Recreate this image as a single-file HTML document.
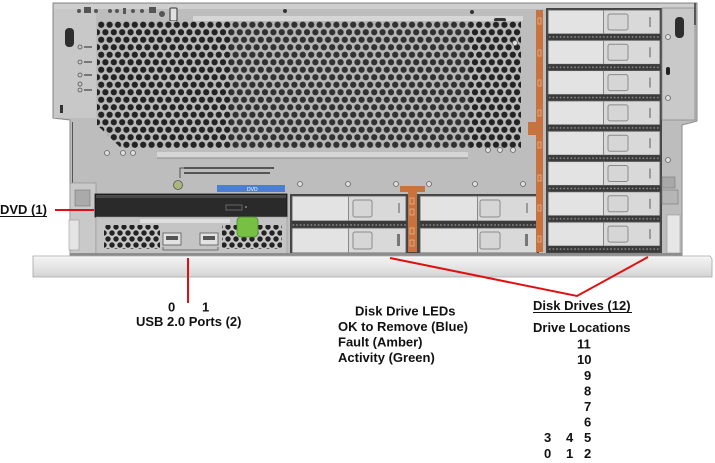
<!DOCTYPE html>
<html><head><meta charset="utf-8">
<style>
html,body{margin:0;padding:0;background:#fff;}
svg{display:block;}
.t{font-family:"Liberation Sans",Arial,sans-serif;font-weight:bold;font-size:13px;fill:#111;}
</style></head><body>
<svg width="715" height="463" viewBox="0 0 715 463" xmlns="http://www.w3.org/2000/svg">
<defs>
<pattern id="hex" width="8.4" height="15" patternUnits="userSpaceOnUse" x="97" y="21">
<rect width="8.4" height="15" fill="#b9b9b9"/>
<circle cx="4.2" cy="3.75" r="3.1" fill="#232323"/>
<circle cx="0" cy="11.25" r="3.1" fill="#232323"/>
<circle cx="8.4" cy="11.25" r="3.1" fill="#232323"/>
</pattern>
<pattern id="hex2" width="8" height="12" patternUnits="userSpaceOnUse" x="104" y="224">
<rect width="8" height="12" fill="#c6c6c6"/>
<circle cx="4" cy="3" r="2.7" fill="#222"/>
<circle cx="0" cy="9" r="2.7" fill="#222"/>
<circle cx="8" cy="9" r="2.7" fill="#222"/>
</pattern>
<pattern id="grate" width="3.6" height="6" patternUnits="userSpaceOnUse">
<rect width="3.6" height="6" fill="#3a3a3a"/>
<circle cx="1.8" cy="3" r="0.9" fill="#8e8e8e"/>
</pattern>
<linearGradient id="bez" x1="0" y1="0" x2="0" y2="1">
<stop offset="0" stop-color="#f3f3f3"/><stop offset="0.5" stop-color="#e6e6e6"/><stop offset="1" stop-color="#d4d4d4"/>
</linearGradient>
<g id="drv">
<rect x="0" y="0" width="112" height="24" fill="#d9d9d9" stroke="#5a5a5a" stroke-width="0.8"/>
<rect x="1" y="1" width="54" height="22" fill="#e3e3e3"/>
<line x1="55.5" y1="0" x2="55.5" y2="24" stroke="#888"/>
<rect x="60" y="4" width="20" height="16" rx="2" fill="#d6d6d6" stroke="#8a8a8a"/>
<rect x="101" y="7" width="2" height="10" fill="#9a9a9a"/>
<rect x="0" y="24" width="112" height="6" fill="url(#grate)"/>
</g>
</defs>

<!-- chassis body -->
<polygon points="53,3 697,3 697,121 682,125 682,256 70,256 70,120 53,118" fill="#bdbdbd" stroke="#8a8a8a" stroke-width="1"/>
<rect x="54" y="4" width="642" height="5" fill="#cfcfcf"/>
<line x1="72.5" y1="122" x2="72.5" y2="185" stroke="#555" stroke-width="1"/>
<!-- left LED panel -->
<rect x="54" y="9" width="42" height="109" fill="#c8c8c8"/>
<rect x="65" y="28" width="9" height="19" rx="4" fill="#2e2e2e"/>
<rect x="60" y="105" width="3" height="8" fill="#333"/>
<g fill="none" stroke="#555" stroke-width="0.8">
<circle cx="80" cy="47" r="2"/><circle cx="80" cy="62" r="2"/><circle cx="80" cy="75" r="2"/><circle cx="80" cy="84" r="2"/><circle cx="80" cy="90" r="2"/>
</g>
<g fill="#777"><rect x="84" y="46" width="8" height="2"/><rect x="84" y="61" width="8" height="2"/><rect x="84" y="74" width="8" height="2"/><rect x="84" y="89" width="8" height="2"/></g>
<!-- top icons -->
<g fill="#555">
<circle cx="79" cy="11" r="2"/><rect x="84" y="7" width="7" height="6"/><circle cx="96" cy="11" r="2"/>
<circle cx="110" cy="11" r="2"/><circle cx="117" cy="11" r="2"/><rect x="123" y="8" width="3" height="6"/><circle cx="133" cy="11" r="2"/><circle cx="142" cy="11" r="2"/>
<rect x="149" y="7" width="7" height="6"/><circle cx="162" cy="14" r="3"/>
</g>
<rect x="170" y="8" width="7" height="13" rx="1" fill="#e0e0e0" stroke="#333"/>
<circle cx="285" cy="11" r="2" fill="#333"/>
<circle cx="472" cy="12" r="2" fill="#333"/>
<!-- top slot -->
<rect x="193" y="16" width="330" height="5" fill="#d6d6d6"/>
<rect x="494" y="18" width="12" height="5" rx="2" fill="#333"/>
<!-- grill -->
<rect x="97" y="21" width="424" height="127" fill="url(#hex)"/>
<rect x="230" y="21" width="240" height="127" fill="#9a9a9a" opacity="0.12"/>
<polygon points="96,124 96,149 122,149" fill="#bdbdbd"/>
<!-- bottom slot -->
<rect x="157" y="152" width="311" height="6" fill="#d6d6d6"/>
<line x1="157" y1="158" x2="468" y2="158" stroke="#8c8c8c"/>
<!-- screws -->
<g fill="#ddd" stroke="#666" stroke-width="0.8">
<circle cx="107" cy="153" r="2.5"/><circle cx="123" cy="153" r="2.5"/><circle cx="133" cy="153" r="2.5"/>
<circle cx="300" cy="184" r="2.5"/><circle cx="348" cy="184" r="2.5"/><circle cx="396" cy="184" r="2.5"/><circle cx="429" cy="184" r="2.5"/><circle cx="475" cy="184" r="2.5"/><circle cx="523" cy="184" r="2.5"/>
<circle cx="515" cy="43" r="2.5"/><circle cx="513" cy="150" r="2.5"/><circle cx="500" cy="150" r="2.5"/><circle cx="488" cy="150" r="2.5"/>
</g>
<!-- small text near DVD -->
<g fill="#555">
<rect x="184" y="167" width="90" height="2"/><rect x="184" y="172" width="86" height="2"/>
</g>
<polyline points="180,178 180,168 184,168" fill="none" stroke="#333" stroke-width="0.8"/>
<circle cx="178" cy="185" r="4.5" fill="#a9b87a" stroke="#555" stroke-width="0.8"/>
<!-- left lower bracket -->
<rect x="70" y="183" width="26" height="73" fill="#c9c9c9" stroke="#999" stroke-width="0.8"/>
<rect x="75" y="190" width="15" height="16" fill="#aaa" stroke="#777" stroke-width="0.6"/>
<rect x="69" y="220" width="10" height="30" fill="#e4e4e4" stroke="#999" stroke-width="0.6"/>
<!-- DVD -->
<rect x="217" y="185" width="68" height="7" fill="#4b7fd1"/>
<text x="247" y="191" font-family="Liberation Sans, sans-serif" font-size="5" fill="#fff">DVD</text>
<rect x="95" y="194" width="192" height="23" fill="#2a2a2a" stroke="#111" stroke-width="0.8"/>
<rect x="96" y="195" width="190" height="3" fill="#4a4a4a"/>
<rect x="226" y="205" width="16" height="5" fill="none" stroke="#777" stroke-width="0.8"/>
<circle cx="246" cy="207" r="1" fill="#888"/>
<!-- DVD lower frame -->
<rect x="96" y="217" width="191" height="39" fill="#c4c4c4" stroke="#999" stroke-width="0.6"/>
<rect x="140" y="219" width="90" height="4" fill="#dedede"/>
<rect x="104" y="225" width="56" height="24" fill="url(#hex2)"/>
<rect x="222" y="225" width="60" height="24" fill="url(#hex2)"/>
<rect x="163" y="233" width="18" height="12" fill="#e2e2e2" stroke="#555" stroke-width="0.8"/>
<rect x="166" y="236" width="12" height="4" fill="#555"/>
<rect x="200" y="233" width="18" height="12" fill="#e2e2e2" stroke="#555" stroke-width="0.8"/>
<rect x="203" y="236" width="12" height="4" fill="#555"/>
<polyline points="163,247 163,250 218,250 218,247" fill="none" stroke="#555" stroke-width="0.8"/>
<rect x="237" y="217" width="21" height="20" rx="4" fill="#76c043" stroke="#4f8a2a" stroke-width="0.8"/>
<!-- lower drives background -->
<rect x="290" y="194" width="249" height="61" fill="#444"/>
<!-- lower left drives -->
<g>
<rect x="292" y="196" width="114" height="25" fill="#d9d9d9" stroke="#5a5a5a" stroke-width="0.8"/>
<rect x="293" y="197" width="55" height="23" fill="#e3e3e3"/>
<line x1="348.5" y1="196" x2="348.5" y2="221" stroke="#888"/>
<rect x="353" y="200" width="19" height="17" rx="2" fill="#d6d6d6" stroke="#8a8a8a"/>
<rect x="398" y="203" width="2" height="10" fill="#9a9a9a"/>
<rect x="292" y="221" width="114" height="7" fill="url(#grate)"/>
<rect x="292" y="228" width="114" height="25" fill="#d9d9d9" stroke="#5a5a5a" stroke-width="0.8"/>
<rect x="293" y="229" width="55" height="23" fill="#e3e3e3"/>
<line x1="348.5" y1="228" x2="348.5" y2="253" stroke="#888"/>
<rect x="353" y="232" width="19" height="17" rx="2" fill="#d6d6d6" stroke="#8a8a8a"/>
<rect x="397" y="234" width="3" height="12" fill="#777"/>
</g>
<g>
<rect x="420" y="196" width="117" height="25" fill="#d9d9d9" stroke="#5a5a5a" stroke-width="0.8"/>
<rect x="421" y="197" width="56" height="23" fill="#e3e3e3"/>
<line x1="477.5" y1="196" x2="477.5" y2="221" stroke="#888"/>
<rect x="480" y="200" width="20" height="17" rx="2" fill="#d6d6d6" stroke="#8a8a8a"/>
<rect x="526" y="203" width="2" height="10" fill="#9a9a9a"/>
<rect x="420" y="221" width="117" height="7" fill="url(#grate)"/>
<rect x="420" y="228" width="117" height="25" fill="#d9d9d9" stroke="#5a5a5a" stroke-width="0.8"/>
<rect x="421" y="229" width="56" height="23" fill="#e3e3e3"/>
<line x1="477.5" y1="228" x2="477.5" y2="253" stroke="#888"/>
<rect x="480" y="232" width="20" height="17" rx="2" fill="#d6d6d6" stroke="#8a8a8a"/>
<rect x="525" y="234" width="3" height="12" fill="#777"/>
</g>
<!-- lower orange strip -->
<rect x="408" y="188" width="9" height="64" fill="#c8733d"/>
<rect x="400" y="186" width="25" height="6" fill="#c8733d"/>
<g fill="none" stroke="#f0c8a8" stroke-width="0.6">
<rect x="410" y="198" width="4" height="6"/><rect x="410" y="209" width="4" height="6"/><rect x="410" y="228" width="4" height="6"/><rect x="410" y="240" width="4" height="6"/>
</g>
<!-- right drive column -->
<rect x="546" y="8" width="116" height="246" fill="#444"/>
<use href="#drv" x="548" y="10"/>
<use href="#drv" x="548" y="40.3"/>
<use href="#drv" x="548" y="70.6"/>
<use href="#drv" x="548" y="100.9"/>
<use href="#drv" x="548" y="131.2"/>
<use href="#drv" x="548" y="161.5"/>
<use href="#drv" x="548" y="191.8"/>
<use href="#drv" x="548" y="222.1"/>
<!-- right orange strip -->
<rect x="536" y="10" width="7" height="242" fill="#c8733d"/>
<rect x="528" y="122" width="15" height="13" fill="#c8733d"/>
<g fill="none" stroke="#f0c8a8" stroke-width="0.6">
<rect x="538" y="18" width="3" height="6"/><rect x="538" y="50" width="3" height="6"/><rect x="538" y="80" width="3" height="6"/><rect x="538" y="110" width="3" height="6"/><rect x="538" y="142" width="3" height="6"/><rect x="538" y="175" width="3" height="6"/><rect x="538" y="205" width="3" height="6"/><rect x="538" y="236" width="3" height="6"/>
</g>
<!-- right bracket panel -->
<rect x="662" y="8" width="33" height="112" fill="#c9c9c9" stroke="#8a8a8a" stroke-width="0.8"/>
<rect x="675" y="17" width="9" height="21" rx="4" fill="#2e2e2e"/>
<line x1="695" y1="3" x2="695" y2="25" stroke="#333" stroke-width="1.5"/>
<circle cx="668" cy="37" r="2.5" fill="#ddd" stroke="#666" stroke-width="0.8"/>
<circle cx="668" cy="98" r="2.5" fill="#ddd" stroke="#666" stroke-width="0.8"/>
<rect x="666" y="67" width="4" height="8" rx="2" fill="#222"/>
<circle cx="668" cy="160" r="2.5" fill="#ddd" stroke="#666" stroke-width="0.8"/>
<rect x="662" y="177" width="13" height="11" fill="#a8a8a8" stroke="#777" stroke-width="0.6"/>
<rect x="662" y="190" width="16" height="14" fill="#b5b5b5" stroke="#777" stroke-width="0.6"/>
<rect x="667" y="215" width="13" height="38" fill="#e6e6e6" stroke="#999" stroke-width="0.6"/>
<!-- bottom shadow -->
<rect x="70" y="253" width="612" height="3" fill="#8d8d8d"/>
<!-- bezel -->
<polygon points="33,256 710,256 712,259 712,277 33,277" fill="url(#bez)" stroke="#a5a5a5" stroke-width="0.8"/>
<line x1="34" y1="257" x2="710" y2="257" stroke="#fafafa"/>

<!-- red leader lines -->
<g stroke="#e01010" stroke-width="2" fill="none">
<line x1="55" y1="210" x2="94" y2="210"/>
<line x1="188" y1="258" x2="188" y2="303"/>
<polyline points="390,258 577,296 648,257"/>
</g>

<!-- labels -->
<text class="t" x="0" y="214">DVD (1)</text>
<line x1="0" y1="216.5" x2="47" y2="216.5" stroke="#111" stroke-width="1"/>
<text class="t" x="168" y="311.6">0</text>
<text class="t" x="202" y="311.6">1</text>
<text class="t" x="136" y="326.2">USB 2.0 Ports (2)</text>

<text class="t" x="355" y="315.3">Disk Drive LEDs</text>
<text class="t" x="338" y="331">OK to Remove (Blue)</text>
<text class="t" x="338" y="346.6">Fault (Amber)</text>
<text class="t" x="338" y="362">Activity (Green)</text>

<text class="t" x="533" y="310">Disk Drives (12)</text>
<line x1="533" y1="312.5" x2="632" y2="312.5" stroke="#111" stroke-width="1"/>
<text class="t" x="533" y="332">Drive Locations</text>
<text class="t" x="577" y="348.6">11</text>
<text class="t" x="577" y="364.2">10</text>
<text class="t" x="584" y="379.8">9</text>
<text class="t" x="584" y="395.4">8</text>
<text class="t" x="584" y="411">7</text>
<text class="t" x="584" y="426.6">6</text>
<text class="t" x="544" y="442.2">3</text>
<text class="t" x="566" y="442.2">4</text>
<text class="t" x="584" y="442.2">5</text>
<text class="t" x="544" y="457.8">0</text>
<text class="t" x="566" y="457.8">1</text>
<text class="t" x="584" y="457.8">2</text>
</svg>
</body></html>
